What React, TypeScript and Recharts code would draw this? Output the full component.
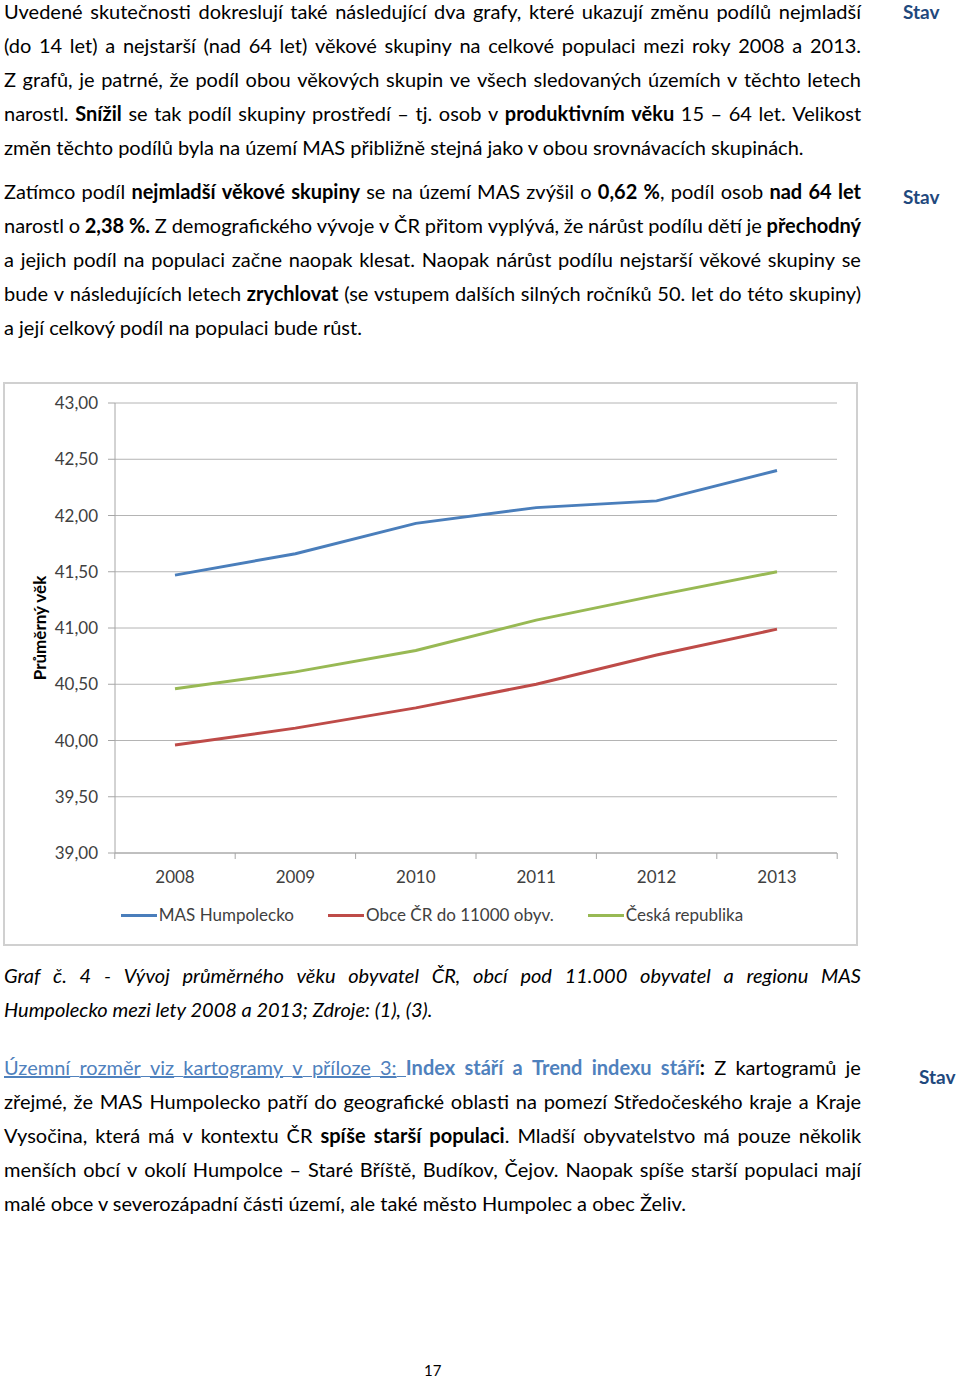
import { CartesianGrid, Legend, Line, LineChart, XAxis, YAxis } from "recharts";

// chart data (průměrný věk)
const years = ["2008", "2009", "2010", "2011", "2012", "2013"];
const masHumpolecko = [41.47, 41.66, 41.93, 42.07, 42.13, 42.4];
const obceDo11000 = [39.96, 40.11, 40.29, 40.5, 40.76, 40.99];
const ceskaRepublika = [40.46, 40.61, 40.8, 41.07, 41.29, 41.5];
const yTicks = [39, 39.5, 40, 40.5, 41, 41.5, 42, 42.5, 43];

const data = years.map((year, i) => ({
  year,
  mas: masHumpolecko[i],
  obce: obceDo11000[i],
  cr: ceskaRepublika[i],
}));

const FONT = "Lato, 'Open Sans', sans-serif";
const AXIS_GREY = "#a6a6a6";
const HALF_STEP = 60.2;

type Run = {
  text: string;
  bold?: boolean;
  italic?: boolean;
  color?: string;
  underline?: boolean;
};

const b = (text: string): Run => ({ text, bold: true });
const t = (text: string): Run => ({ text });

const para1: Run[][] = [
  [t("Uvedené skutečnosti dokreslují také následující dva grafy, které ukazují změnu podílů nejmladší")],
  [t("(do 14 let) a nejstarší (nad 64 let) věkové skupiny na celkové populaci mezi roky 2008 a 2013.")],
  [t("Z grafů, je patrné, že podíl obou věkových skupin ve všech sledovaných územích v těchto letech")],
  [
    t("narostl. "),
    b("Snížil"),
    t(" se tak podíl skupiny prostředí – tj. osob v "),
    b("produktivním věku"),
    t(" 15 – 64 let. Velikost"),
  ],
  [t("změn těchto podílů byla na území MAS přibližně stejná jako v obou srovnávacích skupinách.")],
];

const para2: Run[][] = [
  [
    t("Zatímco podíl "),
    b("nejmladší věkové skupiny"),
    t(" se na území MAS zvýšil o "),
    b("0,62 %"),
    t(", podíl osob "),
    b("nad 64 let"),
  ],
  [
    t("narostl o "),
    b("2,38 %."),
    t(" Z demografického vývoje v ČR přitom vyplývá, že nárůst podílu dětí je "),
    b("přechodný"),
  ],
  [t("a jejich podíl na populaci začne naopak klesat. Naopak nárůst podílu nejstarší věkové skupiny se")],
  [
    t("bude v následujících letech "),
    b("zrychlovat"),
    t(" (se vstupem dalších silných ročníků 50. let do této skupiny)"),
  ],
  [t("a její celkový podíl na populaci bude růst.")],
];

const caption: Run[][] = [
  [{ text: "Graf č. 4 - Vývoj průměrného věku obyvatel ČR, obcí pod 11.000 obyvatel a regionu MAS", italic: true }],
  [{ text: "Humpolecko mezi lety 2008 a 2013; Zdroje: (1), (3).", italic: true }],
];

const LINK = "#4f81bd";

const para3: Run[][] = [
  [
    { text: "Územní rozměr viz kartogramy v příloze 3: ", color: LINK, underline: true },
    { text: "Index stáří a Trend indexu stáří", color: LINK, bold: true },
    b(":"),
    t(" Z kartogramů je"),
  ],
  [t("zřejmé, že MAS Humpolecko patří do geografické oblasti na pomezí Středočeského kraje a Kraje")],
  [t("Vysočina, která má v kontextu ČR "), b("spíše starší populaci"), t(". Mladší obyvatelstvo má pouze několik")],
  [t("menších obcí v okolí Humpolce – Staré Bříště, Budíkov, Čejov. Naopak spíše starší populaci mají")],
  [t("malé obce v severozápadní části území, ale také město Humpolec a obec Želiv.")],
];

const runStyle = (r: Run): React.CSSProperties => ({
  fontWeight: r.bold ? 700 : 400,
  fontStyle: r.italic ? "italic" : "normal",
  color: r.color || "#000",
  textDecoration: r.underline ? "underline" : "none",
});

// justified line: words spread out by flexible spacers
const TextLine = ({ runs, last }: { runs: Run[]; last: boolean }) => {
  if (last) {
    return (
      <div style={{ height: 34, lineHeight: "34px", whiteSpace: "nowrap" }}>
        {runs.map((r, i) => (
          <span key={i} style={runStyle(r)}>
            {r.text}
          </span>
        ))}
      </div>
    );
  }
  let words: Run[][] = [[]];
  runs.forEach((run) => {
    run.text.split(" ").forEach((part, i) => {
      if (i > 0) words.push([]);
      if (part) words[words.length - 1].push({ ...run, text: part });
    });
  });
  words = words.filter((w) => w.length > 0);
  const items: React.ReactNode[] = [];
  words.forEach((w, i) => {
    if (i > 0) {
      const prev = words[i - 1][words[i - 1].length - 1];
      items.push(
        <span key={`s-${i}`} style={{ flex: 1, minWidth: 4, position: "relative" }}>
          {prev.underline && (
            <span
              style={{
                position: "absolute",
                left: 0,
                right: 0,
                top: 26,
                height: 1,
                background: prev.color || "#000",
              }}
            />
          )}
        </span>
      );
    }
    items.push(
      <span key={`w-${i}`}>
        {w.map((r, j) => (
          <span key={j} style={runStyle(r)}>
            {r.text}
          </span>
        ))}
      </span>
    );
  });
  return (
    <div style={{ height: 34, lineHeight: "34px", whiteSpace: "nowrap", display: "flex" }}>
      {items}
    </div>
  );
};

const Paragraph = ({ top, lines }: { top: number; lines: Run[][] }) => (
  <div style={{ position: "absolute", left: 4, top, width: 857 }}>
    {lines.map((runs, i) => (
      <TextLine key={i} runs={runs} last={i === lines.length - 1} />
    ))}
  </div>
);

const Stav = ({ left, top }: { left: number; top: number }) => (
  <div
    style={{
      position: "absolute",
      left,
      top,
      fontWeight: 700,
      color: "#1f497d",
      fontSize: 19,
      lineHeight: "24px",
    }}
  >
    Stav
  </div>
);

const renderXTick = (props: any) => {
  const { x, y, payload, index, visibleTicksCount } = props;
  const isLast =
    visibleTicksCount != null
      ? index === visibleTicksCount - 1
      : payload.value === years[years.length - 1];
  return (
    <g>
      <line x1={x - HALF_STEP} x2={x - HALF_STEP} y1={y} y2={y + 6} stroke={AXIS_GREY} />
      {isLast && (
        <line x1={x + HALF_STEP} x2={x + HALF_STEP} y1={y} y2={y + 6} stroke={AXIS_GREY} />
      )}
      <text
        x={x}
        y={y + 30}
        textAnchor="middle"
        fill="#404040"
        fontSize={17}
        fontFamily={FONT}
      >
        {payload.value}
      </text>
    </g>
  );
};

const renderLegend = (props: any) => {
  const { payload } = props;
  return (
    <div
      style={{
        display: "flex",
        justifyContent: "center",
        gap: 34,
        paddingTop: 2,
        paddingLeft: 22,
        fontFamily: FONT,
        fontSize: 17,
        lineHeight: "20px",
        color: "#404040",
      }}
    >
      {payload.map((entry: any, index: number) => (
        <div key={`item-${index}`} style={{ display: "flex", alignItems: "center" }}>
          <span
            style={{
              display: "inline-block",
              width: 36,
              height: 3,
              background: entry.color,
              marginRight: 2,
            }}
          />
          <span>{entry.value}</span>
        </div>
      ))}
    </div>
  );
};

const AgeChart = () => (
  <div
    style={{
      position: "absolute",
      left: 3,
      top: 382,
      width: 851,
      height: 560,
      border: "2px solid #d0d0d0",
      background: "#fff",
    }}
  >
    <LineChart
      width={851}
      height={560}
      data={data}
      margin={{ top: 19, right: 19, left: 0, bottom: 0 }}
    >
      <CartesianGrid vertical={false} stroke="#b4b4b4" />
      <XAxis
        dataKey="year"
        height={50}
        padding={{ left: 60, right: 60 }}
        stroke={AXIS_GREY}
        tickLine={false}
        tickSize={0}
        tickMargin={0}
        tick={renderXTick}
        interval={0}
      />
      <YAxis
        width={110}
        domain={[39, 43]}
        ticks={yTicks}
        stroke={AXIS_GREY}
        tickSize={7}
        tickMargin={10}
        tick={{ fill: "#404040", fontSize: 17, fontFamily: FONT }}
        tickFormatter={(v: number) => v.toFixed(2).replace(".", ",")}
        label={{
          value: "Průměrný věk",
          angle: -90,
          position: "insideLeft",
          offset: 35,
          style: {
            textAnchor: "middle",
            fontWeight: 700,
            fontSize: 17,
            fill: "#000",
            fontFamily: FONT,
          },
        }}
      />
      <Legend verticalAlign="bottom" height={41} content={renderLegend} />
      <Line
        type="linear"
        dataKey="mas"
        name="MAS Humpolecko"
        stroke="#4a7ebb"
        strokeWidth={3}
        dot={false}
        isAnimationActive={false}
      />
      <Line
        type="linear"
        dataKey="obce"
        name="Obce ČR do 11000 obyv."
        stroke="#be4b48"
        strokeWidth={3}
        dot={false}
        isAnimationActive={false}
      />
      <Line
        type="linear"
        dataKey="cr"
        name="Česká republika"
        stroke="#98b954"
        strokeWidth={3}
        dot={false}
        isAnimationActive={false}
      />
    </LineChart>
  </div>
);

export default function App() {
  return (
    <div
      style={{
        position: "absolute",
        left: 0,
        top: 0,
        width: 960,
        height: 1379,
        background: "#fff",
        fontFamily: FONT,
        fontSize: 20,
        color: "#000",
        overflow: "hidden",
      }}
    >
      <Paragraph top={-6} lines={para1} />
      <Stav left={903} top={0} />
      <Paragraph top={174} lines={para2} />
      <Stav left={903} top={185} />
      <AgeChart />
      <Paragraph top={958} lines={caption} />
      <Paragraph top={1050} lines={para3} />
      <Stav left={919} top={1065} />
      <div
        style={{
          position: "absolute",
          left: 424,
          top: 1360,
          fontSize: 15,
          lineHeight: "20px",
        }}
      >
        17
      </div>
    </div>
  );
}
